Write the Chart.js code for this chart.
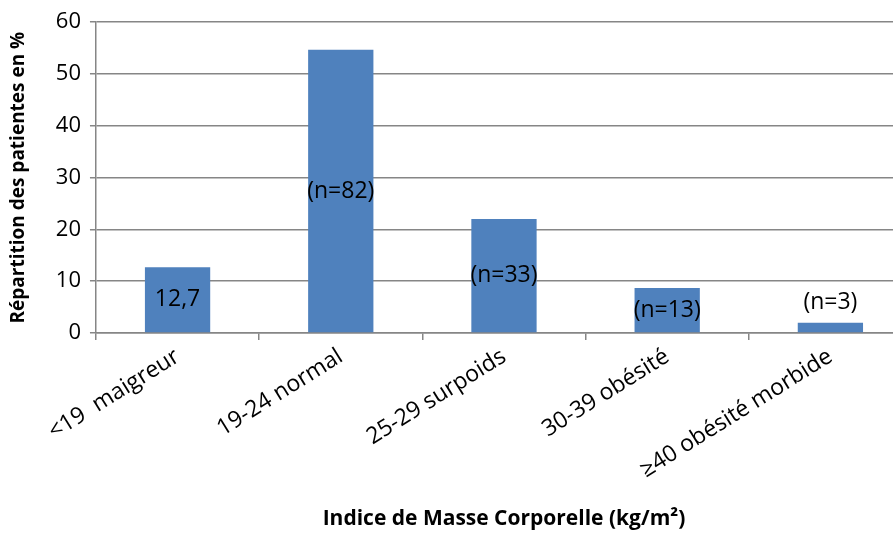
<!DOCTYPE html>
<html>
<head>
<meta charset="utf-8">
<script src="https://cdn.jsdelivr.net/npm/chart.js@4/dist/chart.umd.min.js"></script>
<style>
  html, body { margin: 0; padding: 0; background: #fff; overflow: hidden; }
  #wrap { width: 912px; height: 536px; }
</style>
</head>
<body>
<div id="wrap"><canvas id="imcChart"></canvas></div>
<script>
// data
const categories = ["<19  maigreur", "19-24 normal", "25-29 surpoids", "30-39 obésité", "≥40 obésité morbide"];
const percents = [12.7, 54.7, 22, 8.7, 2];
const barLabels = ["12,7", "(n=82)", "(n=33)", "(n=13)", "(n=3)"];

const FONT = "'Open Sans', 'Noto Sans', sans-serif";

//labels in the middle of each bar, above it when the bar is too short
const barLabelPlugin = {
    id: "barLabels",
    afterDatasetsDraw(chart) {
        const ctx = chart.ctx;
        const meta = chart.getDatasetMeta(0);
        ctx.save();
        ctx.font = "23px " + FONT;
        ctx.fillStyle = "#000";
        ctx.textAlign = "center";
        ctx.textBaseline = "middle";
        meta.data.forEach((bar, i) => {
            const h = bar.base - bar.y;
            let y = bar.y + h / 2;
            if (h < 24) y = bar.y - 20;
            ctx.fillText(barLabels[i], bar.x, y);
        });
        ctx.restore();
    }
};

new Chart(document.getElementById("imcChart"), {
    type: "bar",
    data: {
        labels: categories,
        datasets: [{
            data: percents,
            backgroundColor: "#4F81BD",
            barPercentage: 0.4,
            categoryPercentage: 1
        }]
    },
    options: {
        responsive: true,
        maintainAspectRatio: false,
        animation: false,
        layout: { padding: { top: 12, right: 0, left: 7, bottom: 4 } },
        plugins: { legend: { display: false }, tooltip: { enabled: false } },
        scales: {
            x: {
                grid: {
                    offset: true,
                    drawOnChartArea: false,
                    drawTicks: true,
                    tickLength: 7,
                    color: "#868686",
                    lineWidth: 1.5
                },
                border: { color: "#868686", width: 1.5 },
                ticks: {
                    color: "#000",
                    font: { family: FONT, size: 23 },
                    minRotation: 32,
                    maxRotation: 32,
                    padding: 3
                },
                title: {
                    display: true,
                    text: "Indice de Masse Corporelle (kg/m²)",
                    color: "#000",
                    font: { family: FONT, size: 21, weight: "bold" },
                    padding: { top: 20, bottom: 0 }
                }
            },
            y: {
                min: 0,
                max: 60,
                ticks: {
                    stepSize: 10,
                    color: "#000",
                    font: { family: FONT, size: 22 },
                    padding: 9
                },
                grid: {
                    color: "#868686",
                    lineWidth: 1.5,
                    tickLength: 6
                },
                border: { color: "#868686", width: 1.5 },
                title: {
                    display: true,
                    text: "Répartition des patientes en %",
                    color: "#000",
                    font: { family: FONT, size: 19, weight: "bold" },
                    padding: { top: 0, bottom: 17 }
                }
            }
        }
    },
    plugins: [barLabelPlugin]
});
</script>
</body>
</html>
